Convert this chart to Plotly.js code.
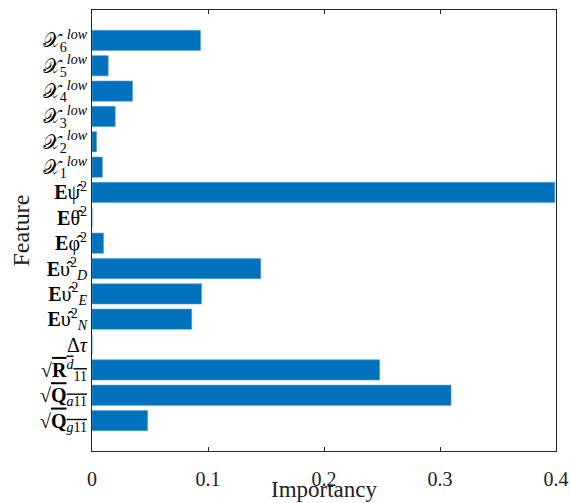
<!DOCTYPE html>
<html>
<head>
<meta charset="utf-8">
<script src="https://cdn.plot.ly/plotly-3.0.1.min.js"></script>
<style>
  html, body { margin: 0; padding: 0; background: #fff; }
  #chart { width: 570px; height: 503px; }
</style>
</head>
<body>
<div id="chart"></div>
<script>
// Feature labels, bottom to top
const featureLabels = [
  "√<span style='text-decoration:overline'><b>Q</b><sub><i>g</i>11</sub></span>",
  "√<span style='text-decoration:overline'><b>Q</b><sub><i>a</i>11</sub></span>",
  "√<span style='text-decoration:overline'><b>R</b><sup><i>d</i></sup><sub>11</sub></span>",
  "Δ<i>τ</i>",
  "<b>E</b>υ̂<sup>2</sup><sub><i>N</i></sub>",
  "<b>E</b>υ̂<sup>2</sup><sub><i>E</i></sub>",
  "<b>E</b>υ̂<sup>2</sup><sub><i>D</i></sub>",
  "<b>E</b>φ̂<sup>2</sup>",
  "<b>E</b>θ̂<sup>2</sup>",
  "<b>E</b>ψ̂<sup>2</sup>",
  "𝒳<sub>1</sub><sup><i>low</i></sup>",
  "𝒳<sub>2</sub><sup><i>low</i></sup>",
  "𝒳<sub>3</sub><sup><i>low</i></sup>",
  "𝒳<sub>4</sub><sup><i>low</i></sup>",
  "𝒳<sub>5</sub><sup><i>low</i></sup>",
  "𝒳<sub>6</sub><sup><i>low</i></sup>"
];

// Importancy of each feature, same order as the labels
const importancy = [
  0.048, 0.3095, 0.248, 0.0, 0.086, 0.0945, 0.1455, 0.010, 0.0, 0.399,
  0.009, 0.004, 0.020, 0.035, 0.014, 0.0935
];

const xTickVals = [0, 0.1, 0.2, 0.3, 0.4];
const xTickText = ["0", "0.1", "0.2", "0.3", "0.4"];

const xTitle = "Importancy";
const yTitle = "Feature";

const positions = featureLabels.map((_, i) => i);

const axisColor = "#262626";
const serif = "'Liberation Serif', 'DejaVu Serif', serif";

Plotly.newPlot("chart", [{
  type: "bar",
  orientation: "h",
  x: importancy,
  y: positions,
  width: 0.8,
  marker: { color: "#0072BD", line: { color: "#5fa3d6", width: 0.6 } },
  hoverinfo: "skip"
}], {
  width: 570,
  height: 503,
  margin: { l: 92, r: 14, t: 10, b: 52 },
  paper_bgcolor: "#fff",
  plot_bgcolor: "#fff",
  showlegend: false,
  font: { family: serif, color: "#000" },
  xaxis: {
    range: [0, 0.4],
    tickvals: xTickVals,
    ticktext: xTickText,
    ticks: "inside",
    ticklen: 4,
    tickcolor: axisColor,
    ticklabelstandoff: 10,
    showline: true,
    linecolor: axisColor,
    linewidth: 1,
    mirror: "ticks",
    showgrid: false,
    zeroline: false,
    tickfont: { family: serif, size: 20, color: "#222" },
    automargin: false
  },
  yaxis: {
    range: [-1.2, 16.2],
    tickvals: positions,
    ticktext: featureLabels,
    ticks: "",
    showline: true,
    linecolor: axisColor,
    linewidth: 1,
    mirror: true,
    showgrid: false,
    zeroline: false,
    tickfont: { family: serif, size: 20, color: "#000" },
    automargin: false
  },
  annotations: [
    {
      text: xTitle, xref: "paper", yref: "paper", x: 0.5, y: 0,
      xanchor: "center", yanchor: "middle", yshift: -38, showarrow: false,
      font: { family: serif, size: 23, color: "#222" }
    },
    {
      text: yTitle, xref: "paper", yref: "paper", x: 0, y: 0.5,
      xanchor: "center", yanchor: "middle", xshift: -72, textangle: -90, showarrow: false,
      font: { family: serif, size: 24, color: "#222" }
    }
  ]
}, { displayModeBar: false, staticPlot: true });
</script>
</body>
</html>
